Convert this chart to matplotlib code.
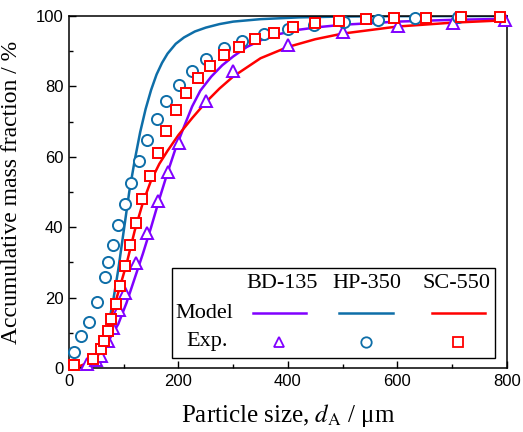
import matplotlib
matplotlib.use('Agg')
import matplotlib.pyplot as plt
from matplotlib.ticker import MultipleLocator
from matplotlib.patches import Rectangle
from matplotlib.lines import Line2D

plt.rcParams['mathtext.fontset'] = 'stix'

# experimental points (particle size in um, accumulative mass fraction in %)
bd_exp_d = [32, 50, 58, 72, 81, 92, 102, 122, 143, 162, 181, 201, 251, 300, 400, 501, 601, 702, 796]
bd_exp_y = [1.1, 2.3, 3.5, 7.8, 11.3, 16.5, 21.2, 29.7, 38.4, 47.5, 55.8, 64.0, 75.9, 84.4, 91.8, 95.4, 97.2, 98.1, 98.9]

hp_exp_d = [9, 21, 37, 52, 65, 72, 81, 90, 102, 113, 127, 142, 160, 178, 201, 225, 251, 283, 317,
            356, 400, 447, 502, 564, 633, 711]
hp_exp_y = [4.6, 9.2, 13.1, 18.8, 25.8, 30.0, 34.9, 40.5, 46.7, 52.6, 58.7, 64.8, 70.6, 75.9, 80.3,
            84.5, 87.8, 90.8, 92.9, 95.0, 96.3, 97.4, 98.3, 98.9, 99.4, 99.6]

sc_exp_d = [9, 44, 58, 64, 71, 77, 85, 93, 102, 111, 122, 134, 148, 162, 178, 195, 214, 235, 258,
            283, 311, 340, 374, 410, 450, 493, 543, 594, 652, 716, 787]
sc_exp_y = [0.9, 2.6, 5.4, 7.8, 10.5, 13.9, 18.3, 23.3, 29.1, 34.9, 41.3, 47.9, 54.5, 61.1, 67.4,
            73.2, 78.2, 82.4, 85.9, 88.8, 91.3, 93.4, 95.3, 96.8, 98.0, 98.7, 99.1, 99.3, 99.5, 99.6, 99.8]

# model curves
bd_mod_d = [0, 20, 30, 45, 60, 75, 90, 105, 120, 135, 150, 165, 180, 195, 210, 225, 240, 260,
            280, 300, 325, 350, 385, 420, 460, 500, 600, 700, 800]
bd_mod_y = [0, 0.3, 1.0, 3.0, 5.5, 8.5, 12.5, 18.5, 25.5, 32.5, 40, 48, 55.5, 62.5, 68.5, 74.3,
            78.8, 82.8, 86, 88.5, 91.2, 93.1, 94.9, 96.1, 96.9, 97.5, 98.4, 98.9, 99.2]

hp_mod_d = [0, 20, 35, 50, 60, 70, 80, 90, 100, 110, 120, 130, 140, 150, 160, 170, 180, 195,
            210, 230, 250, 275, 300, 350, 420, 500, 600, 800]
hp_mod_y = [0, 0.3, 1.2, 3.5, 6.5, 11, 18.5, 28, 39, 50, 59, 67, 73.6, 79, 83.4, 86.7, 89.3,
            92.1, 93.9, 95.6, 96.7, 97.7, 98.4, 99.1, 99.6, 99.85, 99.95, 100]

sc_mod_d = [0, 15, 30, 45, 60, 75, 90, 105, 120, 135, 150, 165, 180, 200, 225, 250, 275, 300,
            350, 400, 450, 500, 600, 700, 800]
sc_mod_y = [0, 0.3, 1.2, 2.8, 6.5, 13.5, 21.5, 29.5, 39, 47, 53.3, 58, 61.7, 66.2, 71, 75.5, 79.4,
            82.8, 88, 91.2, 93.4, 95, 97, 98.1, 98.8]

names = ['BD-135', 'HP-350', 'SC-550']
colors = ['#8000ff', '#0e6ea8', '#ff0000']
markers = ['^', 'o', 's']

fig = plt.figure(figsize=(5.23, 4.32), dpi=100)
ax = fig.add_axes([0.132, 0.148, 0.837, 0.815])

lw = 1.8
ax.plot(bd_mod_d, bd_mod_y, '-', color=colors[0], lw=lw)
ax.plot(hp_mod_d, hp_mod_y, '-', color=colors[1], lw=lw)
ax.plot(sc_mod_d, sc_mod_y, '-', color=colors[2], lw=lw)

mk = dict(ls='none', mfc='white', mew=1.4, clip_on=False, zorder=3)
ax.plot(bd_exp_d, bd_exp_y, marker='^', ms=8, mec=colors[0], **mk)
ax.plot(hp_exp_d, hp_exp_y, marker='o', ms=8, mec=colors[1], **mk)
ax.plot(sc_exp_d, sc_exp_y, marker='s', ms=6.8, mec=colors[2], **mk)

ax.set_xlim(0, 800)
ax.set_ylim(0, 100)
ax.xaxis.set_major_locator(MultipleLocator(200))
ax.xaxis.set_minor_locator(MultipleLocator(100))
ax.yaxis.set_major_locator(MultipleLocator(20))
ax.yaxis.set_minor_locator(MultipleLocator(10))
ax.tick_params(which='both', direction='in', top=False, right=False, width=1)
ax.tick_params(which='major', length=5, labelsize=12, pad=4)
ax.tick_params(which='minor', length=3)
for lab in ax.get_xticklabels() + ax.get_yticklabels():
    lab.set_family('Liberation Sans')
for s in ax.spines.values():
    s.set_linewidth(1.1)

ax.set_xlabel('Particle size, $d_\\mathrm{A}$ / μm', family='Liberation Serif', fontsize=18)
ax.set_ylabel('Accumulative mass fraction / %', family='Liberation Serif', fontsize=17)
ax.xaxis.set_label_coords(0.5, -0.095)
ax.yaxis.set_label_coords(-0.108, 0.5)

# hand-made legend box
tr = ax.transAxes
ax.add_patch(Rectangle((0.235, 0.028), 0.738, 0.256, transform=tr, fill=True, fc='white',
                       ec='black', lw=1.0, zorder=5))
fs = 16
head_x = [0.486, 0.680, 0.885]
line_x = [(0.420, 0.541), (0.616, 0.740), (0.829, 0.950)]
mark_x = [0.479, 0.678, 0.888]
for i in range(3):
    ax.text(head_x[i], 0.239, names[i], transform=tr, ha='center', va='center',
            family='Liberation Serif', fontsize=fs, zorder=6)
    ax.add_line(Line2D(line_x[i], [0.156, 0.156], transform=tr, color=colors[i], lw=lw, zorder=6))
    ax.add_line(Line2D([mark_x[i]], [0.075], transform=tr, ls='none', marker=markers[i],
                       ms=7.5 if i < 2 else 6.5, mfc='white', mec=colors[i], mew=1.3, zorder=6))
ax.text(0.242, 0.156, 'Model', transform=tr, ha='left', va='center',
        family='Liberation Serif', fontsize=fs, zorder=6)
ax.text(0.269, 0.075, 'Exp.', transform=tr, ha='left', va='center',
        family='Liberation Serif', fontsize=fs, zorder=6)

fig.savefig('out.png', dpi=100)
